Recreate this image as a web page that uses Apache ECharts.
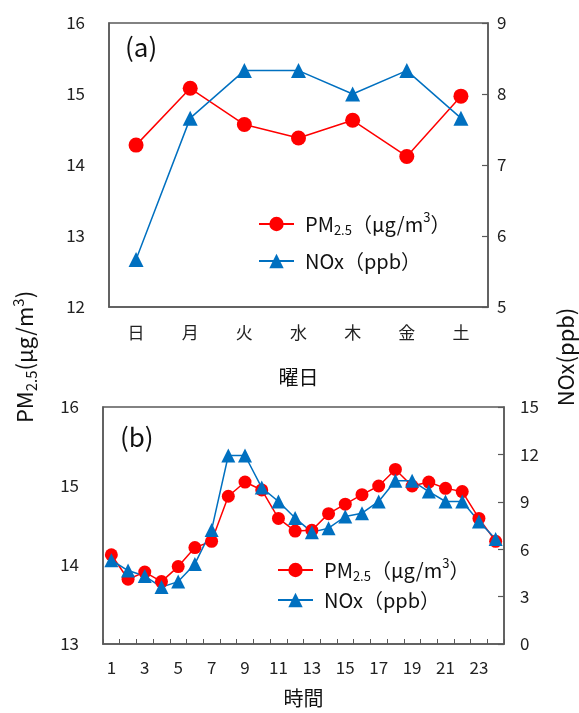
<!DOCTYPE html>
<html>
<head>
<meta charset="utf-8">
<script src="https://cdn.jsdelivr.net/npm/echarts@6/dist/echarts.min.js"></script>
<style>
  html, body { margin: 0; padding: 0; background: #fff; }
  #chart { width: 579px; height: 713px; }
</style>
</head>
<body>
<div id="chart"></div>
<script>
// (a) 曜日別
var days = ['日', '月', '火', '水', '木', '金', '土']
var pmWeek = [14.28, 15.08, 14.57, 14.38, 14.63, 14.12, 14.97]
var noxWeek = [5.67, 7.66, 8.33, 8.33, 8.0, 8.33, 7.66]

// (b) 時間別
var hours = ['1', '2', '3', '4', '5', '6', '7', '8', '9', '10', '11', '12',
  '13', '14', '15', '16', '17', '18', '19', '20', '21', '22', '23', '24']
var pmHour = [14.13, 13.82, 13.91, 13.79, 13.98, 14.22, 14.30, 14.87, 15.05, 14.95, 14.59, 14.43,
  14.44, 14.65, 14.77, 14.89, 15.00, 15.21, 15.00, 15.05, 14.97, 14.93, 14.59, 14.30]
var noxHour = [5.3, 4.65, 4.3, 3.6, 3.95, 5.07, 7.22, 11.93, 11.93, 9.9, 9.02, 7.97,
  7.08, 7.33, 8.07, 8.28, 9.02, 10.33, 10.33, 9.65, 9.02, 9.02, 7.75, 6.65]

var PM_NAME = 'PM2.5（μg/m3）'
var NOX_NAME = 'NOx（ppb）'

var FONT = '"Noto Sans CJK JP", "Noto Sans", sans-serif'
var AXIS_COLOR = '#595959'
var RED = '#ff0000'
var BLUE = '#0070c0'

var richLegend = {
  a: { fontSize: 20, fontFamily: FONT, color: '#111', lineHeight: 26 },
  s: { fontSize: 13, fontFamily: FONT, color: '#111', verticalAlign: 'bottom', lineHeight: 16 },
  p: { fontSize: 13, fontFamily: FONT, color: '#111', verticalAlign: 'top', lineHeight: 16 }
}
function legendText (name) {
  if (name === PM_NAME) return '{a|PM}{s|2.5}{a|（μg/m}{p|3}{a|）}'
  return '{a|NOx（ppb）}'
}

function valueAxis (grid, pos, min, max, interval, margin, ticks) {
  return {
    type: 'value',
    gridIndex: grid,
    position: pos,
    min: min,
    max: max,
    interval: interval,
    splitLine: { show: false },
    axisLine: { show: true, lineStyle: { color: AXIS_COLOR, width: 1.5 } },
    axisTick: { show: ticks, inside: true, length: 6, lineStyle: { color: AXIS_COLOR, width: 1.2 } },
    axisLabel: { margin: margin, fontSize: 17, color: '#222', fontFamily: FONT }
  }
}

var myChart = echarts.init(document.getElementById('chart'))
myChart.setOption({
  backgroundColor: '#fff',
  animation: false,
  grid: [
    { left: 109, right: 91, top: 23, height: 284, show: true, borderColor: AXIS_COLOR, borderWidth: 1.5 },
    { left: 103, right: 75, top: 407, height: 237, show: true, borderColor: AXIS_COLOR, borderWidth: 1.5 }
  ],
  xAxis: [
    {
      type: 'category',
      gridIndex: 0,
      data: days,
      boundaryGap: true,
      axisLine: { lineStyle: { color: AXIS_COLOR, width: 1.5 } },
      axisTick: { show: false },
      axisLabel: { margin: 17, fontSize: 17, color: '#222', fontFamily: FONT },
      name: '曜日',
      nameLocation: 'middle',
      nameGap: 60,
      nameTextStyle: { fontSize: 20, color: '#111', fontFamily: FONT }
    },
    {
      type: 'category',
      gridIndex: 1,
      data: hours,
      boundaryGap: true,
      axisLine: { lineStyle: { color: AXIS_COLOR, width: 1.5 } },
      axisTick: { show: true, inside: true, interval: 0, length: 5, lineStyle: { color: AXIS_COLOR } },
      axisLabel: { interval: 1, margin: 15, fontSize: 17, color: '#222', fontFamily: FONT },
      name: '時間',
      nameLocation: 'middle',
      nameGap: 44,
      nameTextStyle: { fontSize: 20, color: '#111', fontFamily: FONT }
    }
  ],
  yAxis: [
    valueAxis(0, 'left', 12, 16, 1, 24, false),
    valueAxis(0, 'right', 5, 9, 1, 9, true),
    valueAxis(1, 'left', 13, 16, 1, 24, false),
    valueAxis(1, 'right', 0, 15, 3, 16, true)
  ],
  legend: [
    {
      orient: 'vertical',
      left: 253,
      top: 206,
      itemWidth: 35,
      itemHeight: 18,
      itemGap: 14,
      data: [PM_NAME, NOX_NAME],
      formatter: legendText,
      textStyle: { rich: richLegend, padding: [0, 0, 0, 6] }
    },
    {
      orient: 'vertical',
      left: 272,
      top: 552,
      itemWidth: 35,
      itemHeight: 18,
      itemGap: 7,
      data: [PM_NAME, NOX_NAME],
      formatter: legendText,
      textStyle: { rich: richLegend, padding: [0, 0, 0, 6] }
    }
  ],
  series: [
    {
      name: PM_NAME, type: 'line', xAxisIndex: 0, yAxisIndex: 0, data: pmWeek,
      symbol: 'circle', symbolSize: 15, showAllSymbol: true,
      lineStyle: { color: RED, width: 1.5 }, itemStyle: { color: RED }
    },
    {
      name: NOX_NAME, type: 'line', xAxisIndex: 0, yAxisIndex: 1, data: noxWeek,
      symbol: 'triangle', symbolSize: 15, showAllSymbol: true,
      lineStyle: { color: BLUE, width: 1.5 }, itemStyle: { color: BLUE }
    },
    {
      name: PM_NAME, type: 'line', xAxisIndex: 1, yAxisIndex: 2, data: pmHour,
      symbol: 'circle', symbolSize: 13, showAllSymbol: true,
      lineStyle: { color: RED, width: 1.5 }, itemStyle: { color: RED }
    },
    {
      name: NOX_NAME, type: 'line', xAxisIndex: 1, yAxisIndex: 3, data: noxHour,
      symbol: 'triangle', symbolSize: 14, showAllSymbol: true,
      lineStyle: { color: BLUE, width: 1.5 }, itemStyle: { color: BLUE }
    }
  ],
  graphic: [
    {
      type: 'text', left: 125, top: 34,
      style: { text: '(a)', fontSize: 26, fontFamily: FONT, fill: '#111' }
    },
    {
      type: 'text', left: 120, top: 424,
      style: { text: '(b)', fontSize: 26, fontFamily: FONT, fill: '#111' }
    },
    {
      type: 'text', x: 25, y: 357, rotation: Math.PI / 2,
      style: {
        text: '{a|PM}{s|2.5}{a|(μg/m}{p|3}{a|)}',
        align: 'center', verticalAlign: 'middle',
        rich: {
          a: { fontSize: 22, fontFamily: FONT, fill: '#111', lineHeight: 28 },
          s: { fontSize: 15, fontFamily: FONT, fill: '#111', verticalAlign: 'bottom', lineHeight: 18 },
          p: { fontSize: 15, fontFamily: FONT, fill: '#111', verticalAlign: 'top', lineHeight: 18 }
        }
      }
    },
    {
      type: 'text', x: 566, y: 357, rotation: Math.PI / 2,
      style: {
        text: 'NOx(ppb)', fontSize: 22, fontFamily: FONT, fill: '#111',
        align: 'center', verticalAlign: 'middle'
      }
    }
  ]
})
</script>
</body>
</html>
